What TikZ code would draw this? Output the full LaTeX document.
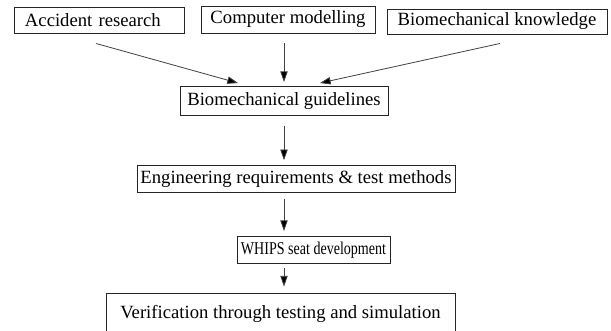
\documentclass[tikz,border=0pt]{standalone}
\usepackage{fontspec}
\setmainfont{Liberation Serif}
\usetikzlibrary{arrows.meta,calc}
\begin{document}
\begin{tikzpicture}[x=0.75pt,y=-0.75pt,
  box/.style={draw=black!85, line width=0.7pt, inner sep=0pt,
    font=\fontsize{14}{16}\selectfont, anchor=center},
  arr/.style={draw=black!75, line width=0.6pt,
    -{Triangle[length=8pt,width=5.5pt,fill=black]}}]
\useasboundingbox (0,0) rectangle (611,330);
\begin{scope}
\clip (0,0) rectangle (611,330);
\node[box, align=left, text width=111pt, inner xsep=8.25pt, minimum height=19.5pt] (A) at (99,20) {Accident research};
\node[box, minimum width=130.5pt, minimum height=20.25pt] (C) at (288,19.5) {Computer modelling};
\node[box, minimum width=165pt, minimum height=18.75pt] (K) at (497,21.5) {Biomechanical knowledge};
\node[box, minimum width=156pt, minimum height=21.75pt] (G) at (284,101) {Biomechanical guidelines};
\node[box, minimum width=238.5pt, minimum height=20pt] (E) at (296,179) {Engineering requirements \& test methods};
\node[box, minimum width=114.75pt, minimum height=20.25pt] (W) at (313.5,250) {\fontsize{13.5}{16}\selectfont\scalebox{0.78}[1]{WHIPS seat development}};
\node[box, minimum width=261.75pt, minimum height=31.5pt] (V) at (280.5,314) {Verification through testing and simulation};
\end{scope}
\draw[arr] ($(A.south)+(-3,10)$) -- ($(G.north)+(-46,-3)$);
\draw[arr] ($(C.south -| G.north)+(0,10)$) -- ($(G.north)+(0,-4)$);
\draw[arr] ($(K.south)+(3,9)$) -- ($(G.north)+(36,-3)$);
\draw[arr] ($(G.south)+(0,10)$) -- ($(G.south |- E.north)+(0,-5)$);
\draw[arr] ($(E.south -| G.south)+(0,6)$) -- ($(W.north -| G.south)+(0,-5)$);
\draw[arr] ($(W.south -| G.south)+(0,4)$) -- ($(V.north -| G.south)+(0,-6)$);
\end{tikzpicture}
\end{document}
